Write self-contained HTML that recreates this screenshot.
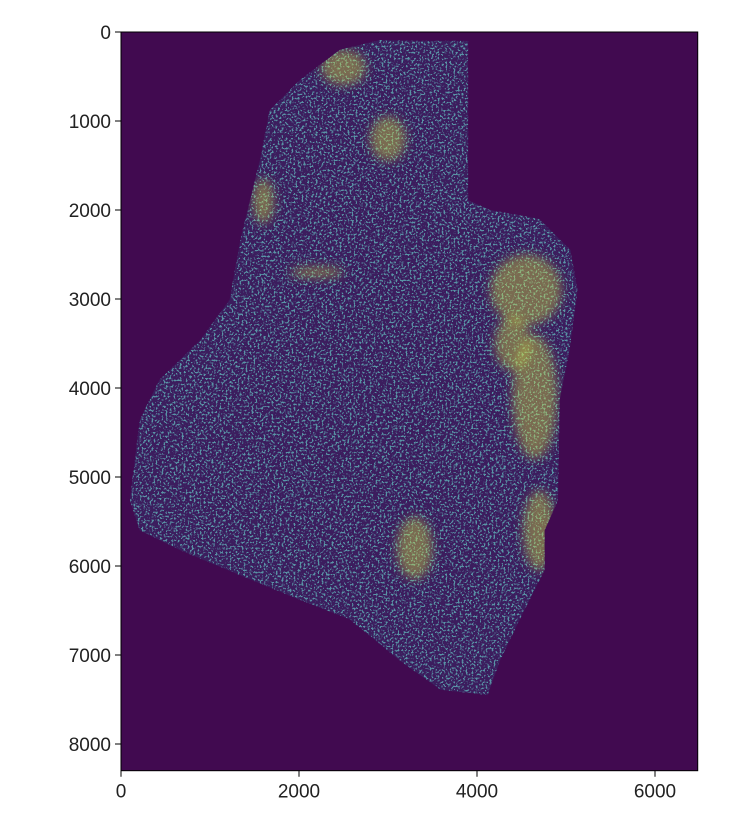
<!DOCTYPE html>
<html><head><meta charset="utf-8"><style>
body{margin:0;background:#fff;}
svg text{font-family:"Liberation Sans",sans-serif;font-size:19px;fill:#222;}
</style></head><body>
<svg id="chart" width="744" height="830" viewBox="0 0 744 830" xmlns="http://www.w3.org/2000/svg">
<defs>
<filter id="speckle" x="0" y="0" width="100%" height="100%">
<feTurbulence type="fractalNoise" baseFrequency="0.5" numOctaves="2" seed="4" result="n"/>
<feColorMatrix type="matrix" values="0 0 0 0 0.13  0 0 0 0 0.57  0 0 0 0 0.55  0 0 0 -22 9.4" />
</filter>
<filter id="soft" x="-50%" y="-50%" width="200%" height="200%"><feGaussianBlur stdDeviation="5"/></filter>
<clipPath id="shapeClip"><polygon id="clipPoly"/></clipPath>
</defs>
<g id="plot"></g>
<g id="axes"></g>
</svg>
<script>
const outlineX=[3360,3900,3900,4150,4700,5050,5130,5040,4930,4910,4760,4760,4480,4260,4120,3590,3130,2570,2010,1450,660,210,100,210,430,890,1220,1340,1560,1670,2010,2460,2910];
const outlineY=[100,100,1890,2000,2100,2450,2900,3570,4130,5260,5600,6045,6600,7060,7450,7390,7060,6600,6380,6150,5820,5600,5260,4360,3910,3460,3010,2340,1440,880,540,200,90];
const blobX=[4550,4650,4700,3300,2500,1600,2200,4400,3000];
const blobY=[2900,4100,5600,5800,400,1900,2700,3500,1200];
const blobRx=[400,250,180,200,250,120,300,200,200];
const blobRy=[400,700,450,350,200,250,60,300,250];
const xTicks=[0,2000,4000,6000];
const yTicks=[0,1000,2000,3000,4000,5000,6000,7000,8000];
const X0=121,Y0=32,S=0.089,W=6480,H=8300;
const sx=v=>X0+v*S, sy=v=>Y0+v*S;
const NS="http://www.w3.org/2000/svg";
const plot=document.getElementById('plot'), axes=document.getElementById('axes');
function mk(tag,attrs,parent){const e=document.createElementNS(NS,tag);for(const k in attrs)e.setAttribute(k,attrs[k]);parent.appendChild(e);return e;}
const bg=mk('rect',{x:sx(0),y:sy(0),width:W*S,height:H*S,fill:'#410a50'},plot);


const pts=outlineX.map((x,i)=>sx(x)+','+sy(outlineY[i])).join(' ');
document.getElementById('clipPoly').setAttribute('points',pts);
const region=mk('polygon',{points:pts,fill:'#3c1d5e'},plot);


const sp=mk('rect',{x:sx(0),y:sy(0),width:W*S,height:H*S,filter:'url(#speckle)','clip-path':'url(#shapeClip)',opacity:0.7},plot);


const bg2=mk('g',{'clip-path':'url(#shapeClip)'},plot);
const bg3=mk('g',{filter:'url(#soft)'},bg2);
blobX.forEach((x,i)=>{const e=mk('ellipse',{cx:sx(x),cy:sy(blobY[i]),rx:blobRx[i]*S,ry:blobRy[i]*S,fill:'#d8e040',opacity:0.4},bg3);

});
const frame=mk('rect',{x:sx(0),y:sy(0),width:W*S,height:H*S,fill:'none',stroke:'#000','stroke-width':1},axes);


xTicks.forEach(t=>{const x=sx(t),yb=sy(H);
mk('line',{x1:x,x2:x,y1:yb,y2:yb+6,stroke:'#000'},axes);
const tx=mk('text',{x:x,y:yb+27,'text-anchor':'middle'},axes);tx.textContent=t;

});
yTicks.forEach(t=>{const y=sy(t),xl=sx(0);
mk('line',{x1:xl-6,x2:xl,y1:y,y2:y,stroke:'#000'},axes);
const tx=mk('text',{x:xl-10,y:y+7,'text-anchor':'end'},axes);tx.textContent=t;

});
</script>
</body></html>
